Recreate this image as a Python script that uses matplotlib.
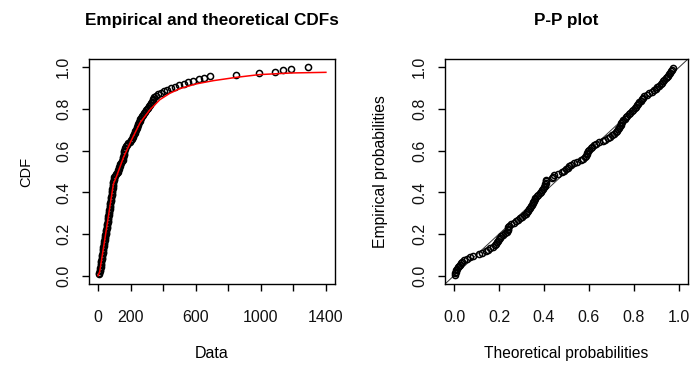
import numpy as np
import matplotlib
matplotlib.use("Agg")
import matplotlib.pyplot as plt
from matplotlib import font_manager

# observed values, sorted (empirical CDF panel)
data = [
    3, 7, 10, 12, 13, 15, 16, 17, 19, 20,
    22, 23, 25, 26, 28, 29, 30, 32, 33, 35,
    36, 38, 39, 40, 42, 43, 45, 46, 48, 49,
    50, 52, 53, 55, 56, 58, 59, 60, 62, 63,
    65, 66, 68, 69, 70, 72, 73, 75, 76, 78,
    79, 80, 82, 83, 85, 86, 87, 88, 89, 90,
    91, 92, 94, 95, 96, 98, 105, 110, 116, 120,
    124, 127, 130, 134, 137, 140, 145, 150, 153, 155,
    157, 158, 160, 162, 164, 166, 170, 178, 186, 193,
    200, 206, 212, 217, 222, 226, 229, 232, 236, 240,
    244, 248, 252, 256, 260, 265, 270, 276, 282, 289,
    296, 303, 309, 314, 319, 324, 330, 335, 340, 345,
    355, 368, 385, 405, 425, 445, 470, 495, 525, 550,
    585, 620, 650, 688, 850, 990, 1090, 1135, 1188, 1290,
]

# fitted distribution function (red curve)
curve_x = [0, 10, 43, 94, 114, 155, 207, 258, 319, 380,
           440, 503, 600, 708, 850, 990, 1188, 1400]
curve_F = [0.0, 0.02, 0.183, 0.44, 0.478, 0.566, 0.654, 0.734, 0.797, 0.845,
           0.875, 0.898, 0.92, 0.936, 0.952, 0.965, 0.973, 0.976]

# theoretical probabilities of the sorted observations (P-P panel)
pp_theo = [
    0.004, 0.005, 0.008, 0.010, 0.012, 0.016, 0.020, 0.026, 0.031, 0.037,
    0.045, 0.058, 0.071, 0.085, 0.110, 0.126, 0.140, 0.150, 0.162, 0.172,
    0.180, 0.186, 0.190, 0.194, 0.198, 0.203, 0.209, 0.216, 0.226, 0.234,
    0.238, 0.240, 0.242, 0.245, 0.254, 0.266, 0.276, 0.285, 0.292, 0.301,
    0.310, 0.318, 0.324, 0.328, 0.333, 0.338, 0.342, 0.345, 0.349, 0.353,
    0.356, 0.359, 0.362, 0.368, 0.375, 0.382, 0.388, 0.393, 0.397, 0.400,
    0.403, 0.405, 0.407, 0.409, 0.411, 0.434, 0.440, 0.446, 0.462, 0.478,
    0.490, 0.499, 0.506, 0.513, 0.522, 0.533, 0.548, 0.563, 0.572, 0.580,
    0.585, 0.589, 0.593, 0.597, 0.602, 0.608, 0.614, 0.621, 0.632, 0.646,
    0.660, 0.672, 0.683, 0.694, 0.704, 0.712, 0.719, 0.724, 0.728, 0.732,
    0.736, 0.740, 0.744, 0.748, 0.753, 0.759, 0.765, 0.771, 0.777, 0.784,
    0.790, 0.797, 0.803, 0.808, 0.813, 0.818, 0.824, 0.829, 0.834, 0.840,
    0.846, 0.856, 0.868, 0.879, 0.889, 0.896, 0.904, 0.911, 0.918, 0.924,
    0.930, 0.935, 0.940, 0.945, 0.950, 0.955, 0.960, 0.964, 0.969, 0.974,
]

x_ticks = [0, 200, 400, 600, 800, 1000, 1200, 1400]
x_ticklabels = ["0", "200", "", "600", "", "1000", "", "1400"]
p_ticks = [0.0, 0.2, 0.4, 0.6, 0.8, 1.0]
p_ticklabels = ["0.0", "0.2", "0.4", "0.6", "0.8", "1.0"]


def pick_font(names):
    for name in names:
        try:
            font_manager.findfont(name, fallback_to_default=False)
            return name
        except Exception:
            pass
    return "DejaVu Sans"


body_font = pick_font(["Liberation Sans", "Arial", "DejaVu Sans"])
plt.rcParams["font.family"] = body_font

n = len(data)
ecdf_y = np.arange(1, n + 1) / n
pp_emp = (np.arange(1, n + 1) - 0.5) / n

fig = plt.figure(figsize=(6.97, 3.68), dpi=100)
ax1 = fig.add_axes([89 / 697, 1 - 284 / 368, 246 / 697, 225 / 368])
ax2 = fig.add_axes([445 / 697, 1 - 284 / 368, 243 / 697, 225 / 368])


def r_style(ax):
    for sp in ax.spines.values():
        sp.set_linewidth(1.0)
        sp.set_color("black")
    ax.tick_params(direction="out", length=5, width=1.0, color="black",
                   labelsize=11.5, labelcolor="#111111")
    ax.tick_params(axis="x", pad=14)
    ax.tick_params(axis="y", pad=8)
    ax.margins(0.04)


# empirical and theoretical CDFs
ax1.plot(data, ecdf_y, linestyle="none", marker="o", ms=4.4, mfc="none",
         mec="black", mew=1.1, zorder=2)
ax1.plot(curve_x, curve_F, color="red", lw=1.1, zorder=3)
r_style(ax1)
ax1.set_xticks(x_ticks)
ax1.set_xticklabels(x_ticklabels)
ax1.set_yticks(p_ticks)
ax1.set_yticklabels(p_ticklabels, rotation=90, va="center")
ax1.set_xlabel("Data", fontsize=11.5)
ax1.xaxis.set_label_coords(0.5, (284 - 346) / 225)
ax1.set_ylabel("CDF", fontsize=10.5)
ax1.yaxis.set_label_coords((33 - 89) / 246, 0.5)
ax1.text(0.5, (284 - 20) / 225, "Empirical and theoretical CDFs",
         transform=ax1.transAxes, ha="center", va="center",
         fontsize=12.3, fontweight="bold")

# P-P plot
ax2.plot(pp_theo, pp_emp, linestyle="none", marker="o", ms=4.4, mfc="none",
         mec="black", mew=1.1, zorder=2)
ax2.axline((0, 0), (1, 1), color="#333333", lw=0.7, zorder=1)
r_style(ax2)
ax2.set_xticks(p_ticks)
ax2.set_xticklabels(p_ticklabels)
ax2.set_yticks(p_ticks)
ax2.set_yticklabels(p_ticklabels, rotation=90, va="center")
ax2.set_xlabel("Theoretical probabilities", fontsize=11.2)
ax2.xaxis.set_label_coords(0.5, (284 - 346) / 225)
ax2.set_ylabel("Empirical probabilities", fontsize=11.3)
ax2.yaxis.set_label_coords((388 - 445) / 243, 0.5)
ax2.text(0.5, (284 - 20) / 225, "P-P plot",
         transform=ax2.transAxes, ha="center", va="center",
         fontsize=12.3, fontweight="bold")

fig.savefig("out.png", dpi=100)
